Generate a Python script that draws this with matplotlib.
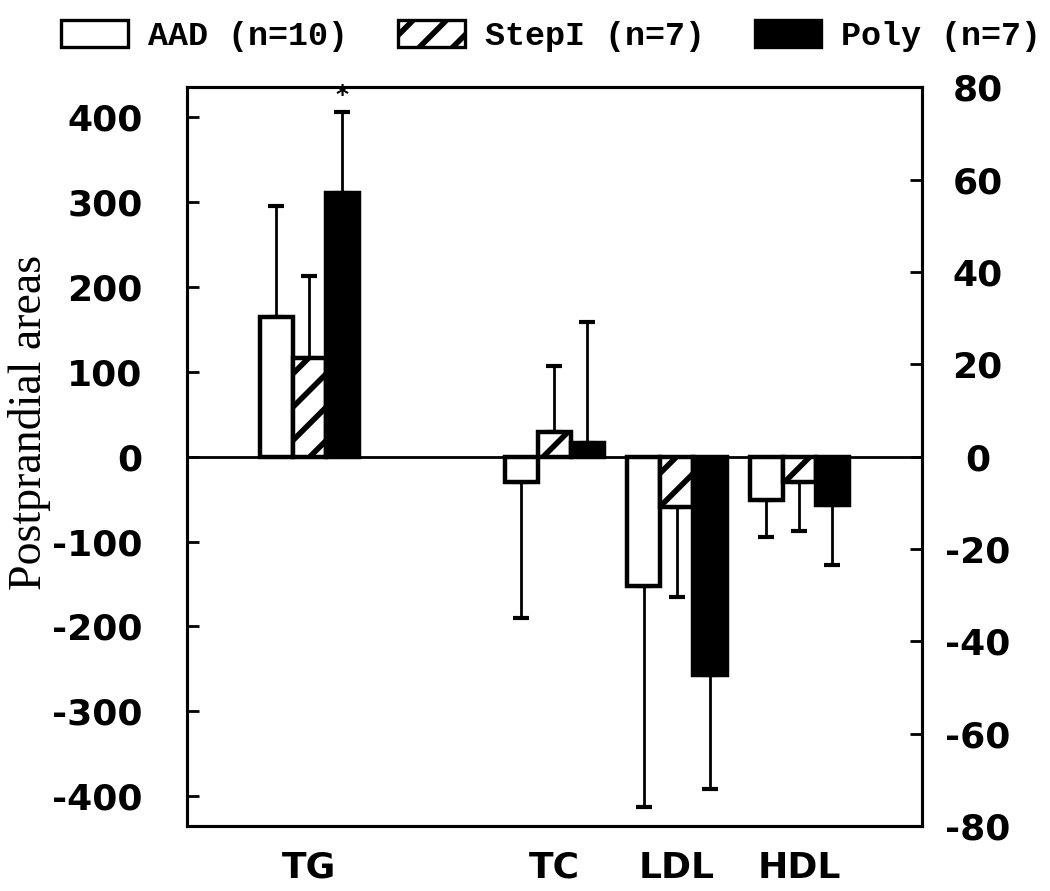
import numpy as np
import matplotlib
matplotlib.use('Agg')
import matplotlib.pyplot as plt
from matplotlib.patches import Patch

# Dados
groups = ['AAD (n=10)', 'StepI (n=7)', 'Poly (n=7)']
tg_mean = [165, 116, 311]          # eixo esquerdo
tg_err = [130, 97, 95]
lipids = ['TC', 'LDL', 'HDL']      # eixo direito
lip_mean = [[-5.4, -28.0, -9.3],   # AAD
            [5.4, -11.0, -5.4],    # StepI
            [3.0, -47.4, -10.4]]   # Poly
lip_err = [[29.6, 48.0, 8.0],
           [14.3, 19.5, 10.8],
           [26.2, 24.6, 13.0]]
left_ticks = [-400, -300, -200, -100, 0, 100, 200, 300, 400]
right_ticks = [-80, -60, -40, -20, 0, 20, 40, 60, 80]

plt.rcParams['axes.unicode_minus'] = False
plt.rcParams['hatch.linewidth'] = 2.0

faces = ['white', 'white', 'black']
hatches = [None, '//', None]
width = 0.27
offsets = [-width, 0, width]

fig = plt.figure(figsize=(5.25, 4.455), dpi=200)
ax = fig.add_axes([0.178, 0.073, 0.700, 0.829])
ax2 = ax.twinx()

# TG no eixo esquerdo
for i in range(3):
    m = tg_mean[i]
    e = tg_err[i]
    yerr = [[0], [e]] if m >= 0 else [[e], [0]]
    ax.bar(0 + offsets[i], m, width, color=faces[i], edgecolor='black',
           linewidth=1.6, hatch=hatches[i], zorder=3)
    ax.errorbar(0 + offsets[i], m, yerr=yerr, fmt='none', ecolor='black',
                elinewidth=1.0, capsize=3, capthick=1.5, zorder=2)

# TC, LDL, HDL no eixo direito
xpos = [2, 3, 4]
for i in range(3):
    for j in range(3):
        m = lip_mean[i][j]
        e = lip_err[i][j]
        yerr = [[0], [e]] if m >= 0 else [[e], [0]]
        ax2.bar(xpos[j] + offsets[i], m, width, color=faces[i], edgecolor='black',
                linewidth=1.6, hatch=hatches[i], zorder=3)
        ax2.errorbar(xpos[j] + offsets[i], m, yerr=yerr, fmt='none', ecolor='black',
                     elinewidth=1.0, capsize=3, capthick=1.5, zorder=2)

ax.text(width, 412, '*', ha='center', va='bottom', fontsize=9, fontweight='bold')
ax.axhline(0, color='black', linewidth=1.0, zorder=4)

ax.set_xlim(-1, 5)
ax.set_ylim(-435, 435)
ax2.set_ylim(-80, 80)

ax.set_xticks([0, 2, 3, 4])
ax.set_xticklabels(['TG'] + lipids, fontsize=13, fontweight='bold')
ax.tick_params(axis='x', length=0, pad=9)
ax.set_yticks(left_ticks)
ax.set_yticklabels([str(v) for v in left_ticks], fontsize=13, fontweight='bold')
ax.tick_params(axis='y', direction='in', length=4.3, width=1.0, pad=16)
ax2.set_yticks(right_ticks)
ax2.set_yticklabels([str(v) for v in right_ticks], fontsize=13, fontweight='bold')
ax2.tick_params(axis='y', direction='in', length=4.3, width=1.0, pad=20)
for lbl in ax2.get_yticklabels():
    lbl.set_ha('center')

for a in (ax, ax2):
    for s in a.spines.values():
        s.set_linewidth(1.1)

fig.text(0.028, 0.526, 'Postprandial areas', rotation=90, ha='center', va='center',
         fontsize=16.5, family='Liberation Serif')

handles = [Patch(facecolor='white', edgecolor='black', linewidth=1.2),
           Patch(facecolor='white', edgecolor='black', linewidth=1.2, hatch='//'),
           Patch(facecolor='black', edgecolor='black', linewidth=1.2)]
fig.legend(handles, groups, loc='upper center', bbox_to_anchor=(0.525, 1.0), ncol=3,
           frameon=False, handlelength=2.0, handleheight=0.85, handletextpad=0.6,
           columnspacing=1.5, borderaxespad=0.2,
           prop={'family': 'Liberation Mono', 'weight': 'bold', 'size': 12})

fig.savefig('out.png', dpi=200)
